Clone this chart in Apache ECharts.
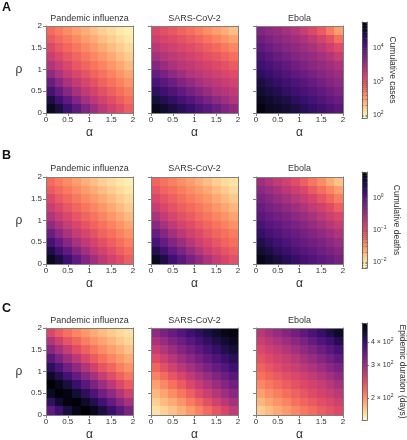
<!DOCTYPE html>
<html><head><meta charset="utf-8">
<script src="https://cdn.jsdelivr.net/npm/echarts@6/dist/echarts.min.js"></script>
<style>html,body{margin:0;padding:0;background:#fff}#c{width:407px;height:440px}</style>
</head><body><div id="c"></div>
<script>
// ---------- data ----------
const alphaCenters = [0.1, 0.3, 0.5, 0.7, 0.9, 1.1, 1.3, 1.5, 1.7, 1.9];
const rhoCenters   = [0.1, 0.3, 0.5, 0.7, 0.9, 1.1, 1.3, 1.5, 1.7, 1.9];
const axisTickValues = [0, 0.5, 1, 1.5, 2];
const diseases = ['Pandemic influenza', 'SARS-CoV-2', 'Ebola'];
const panelLetters = ['A', 'B', 'C'];
const colorbarTitles = ['Cumulative cases', 'Cumulative deaths', 'Epidemic duration (days)'];

// rows: rho = 0.1 (bottom) ... 1.9 (top); columns: alpha = 0.1 ... 1.9
const log10CasesFlu = [
  [4.63,4.45,4.20,3.96,3.73,3.51,3.32,3.17,3.04,2.91],
  [4.43,4.17,3.94,3.70,3.48,3.30,3.16,3.03,2.90,2.79],
  [4.14,3.91,3.68,3.46,3.29,3.14,3.01,2.89,2.78,2.68],
  [3.88,3.65,3.44,3.27,3.13,3.00,2.88,2.77,2.67,2.56],
  [3.62,3.41,3.25,3.11,2.98,2.86,2.76,2.66,2.55,2.45],
  [3.39,3.24,3.10,2.96,2.85,2.75,2.65,2.54,2.44,2.33],
  [3.22,3.08,2.95,2.84,2.74,2.64,2.53,2.43,2.32,2.23],
  [3.07,2.94,2.83,2.73,2.62,2.52,2.42,2.31,2.22,2.14],
  [2.93,2.82,2.72,2.61,2.50,2.41,2.30,2.21,2.13,2.05],
  [2.81,2.71,2.60,2.49,2.40,2.29,2.20,2.12,2.04,2.00]
];
const log10CasesSars = [
  [4.65,4.55,4.44,4.34,4.23,4.11,3.99,3.87,3.73,3.60],
  [4.48,4.37,4.27,4.15,4.03,3.91,3.78,3.64,3.52,3.40],
  [4.30,4.19,4.07,3.95,3.82,3.69,3.56,3.44,3.37,3.28],
  [4.11,3.99,3.87,3.73,3.60,3.48,3.37,3.30,3.23,3.16],
  [3.91,3.78,3.64,3.52,3.40,3.32,3.25,3.18,3.11,3.05],
  [3.69,3.56,3.44,3.35,3.28,3.20,3.14,3.07,3.00,2.92],
  [3.48,3.38,3.30,3.23,3.16,3.09,3.02,2.95,2.87,2.78],
  [3.33,3.25,3.18,3.11,3.05,2.97,2.89,2.81,2.72,2.63],
  [3.20,3.13,3.07,3.00,2.92,2.84,2.75,2.66,2.56,2.46],
  [3.09,3.02,2.95,2.87,2.78,2.69,2.59,2.49,2.39,2.29]
];
const log10CasesEbola = [
  [4.71,4.63,4.57,4.50,4.43,4.35,4.26,4.17,4.09,4.00],
  [4.62,4.55,4.48,4.41,4.31,4.23,4.15,4.06,3.97,3.88],
  [4.52,4.45,4.38,4.29,4.20,4.12,4.03,3.94,3.85,3.75],
  [4.43,4.35,4.26,4.17,4.09,4.00,3.91,3.82,3.72,3.64],
  [4.31,4.23,4.15,4.06,3.97,3.88,3.79,3.69,3.62,3.54],
  [4.20,4.12,4.03,3.94,3.85,3.75,3.66,3.59,3.51,3.42],
  [4.09,4.00,3.91,3.82,3.72,3.64,3.57,3.48,3.37,3.23],
  [3.97,3.88,3.79,3.69,3.62,3.54,3.45,3.32,3.19,3.05],
  [3.85,3.75,3.66,3.59,3.51,3.42,3.28,3.14,3.00,2.79],
  [3.72,3.64,3.57,3.48,3.37,3.23,3.09,2.94,2.71,2.48]
];
const log10DeathsFlu = [
  [0.64,0.45,0.20,-0.06,-0.30,-0.53,-0.72,-0.88,-1.01,-1.15],
  [0.43,0.17,-0.08,-0.33,-0.55,-0.74,-0.89,-1.03,-1.16,-1.27],
  [0.14,-0.11,-0.35,-0.58,-0.76,-0.91,-1.04,-1.17,-1.28,-1.39],
  [-0.14,-0.38,-0.60,-0.78,-0.92,-1.06,-1.19,-1.29,-1.40,-1.51],
  [-0.41,-0.62,-0.80,-0.94,-1.07,-1.20,-1.30,-1.41,-1.52,-1.63],
  [-0.65,-0.81,-0.95,-1.09,-1.21,-1.31,-1.42,-1.53,-1.64,-1.75],
  [-0.83,-0.97,-1.10,-1.22,-1.33,-1.43,-1.54,-1.65,-1.76,-1.86],
  [-0.98,-1.12,-1.23,-1.34,-1.45,-1.55,-1.66,-1.77,-1.87,-1.95],
  [-1.13,-1.24,-1.35,-1.46,-1.57,-1.67,-1.78,-1.88,-1.96,-2.04],
  [-1.25,-1.36,-1.47,-1.58,-1.69,-1.79,-1.89,-1.97,-2.05,-2.10]
];
const log10DeathsSars = [
  [0.62,0.43,0.18,-0.02,-0.23,-0.43,-0.62,-0.80,-0.93,-1.05],
  [0.38,0.14,-0.06,-0.26,-0.47,-0.66,-0.82,-0.95,-1.07,-1.17],
  [0.11,-0.10,-0.30,-0.50,-0.69,-0.85,-0.97,-1.09,-1.19,-1.28],
  [-0.13,-0.34,-0.54,-0.72,-0.87,-0.99,-1.10,-1.21,-1.29,-1.38],
  [-0.37,-0.58,-0.75,-0.90,-1.01,-1.12,-1.22,-1.31,-1.40,-1.50],
  [-0.60,-0.78,-0.92,-1.04,-1.14,-1.24,-1.32,-1.42,-1.51,-1.61],
  [-0.80,-0.94,-1.06,-1.16,-1.25,-1.34,-1.43,-1.53,-1.63,-1.73],
  [-0.96,-1.07,-1.17,-1.27,-1.36,-1.45,-1.54,-1.65,-1.75,-1.85],
  [-1.09,-1.19,-1.28,-1.38,-1.47,-1.56,-1.66,-1.77,-1.86,-1.95],
  [-1.21,-1.30,-1.39,-1.49,-1.58,-1.68,-1.78,-1.88,-1.96,-2.02]
];
const log10DeathsEbola = [
  [0.68,0.57,0.47,0.36,0.25,0.14,0.05,-0.05,-0.13,-0.22],
  [0.54,0.43,0.32,0.22,0.11,0.01,-0.07,-0.16,-0.25,-0.34],
  [0.40,0.29,0.18,0.08,-0.02,-0.10,-0.19,-0.27,-0.38,-0.48],
  [0.25,0.14,0.05,-0.05,-0.13,-0.22,-0.31,-0.41,-0.52,-0.63],
  [0.11,0.01,-0.07,-0.16,-0.25,-0.34,-0.45,-0.56,-0.69,-0.80],
  [-0.02,-0.10,-0.19,-0.27,-0.38,-0.48,-0.59,-0.73,-0.84,-0.96],
  [-0.13,-0.22,-0.31,-0.41,-0.52,-0.63,-0.77,-0.88,-1.01,-1.17],
  [-0.25,-0.34,-0.45,-0.56,-0.69,-0.80,-0.91,-1.07,-1.22,-1.37],
  [-0.38,-0.48,-0.59,-0.73,-0.84,-0.96,-1.12,-1.27,-1.42,-1.59],
  [-0.52,-0.63,-0.77,-0.88,-1.01,-1.17,-1.32,-1.47,-1.65,-1.81]
];
const durationDaysFlu = [
  [357,395,441,483,504,476,439,402,364,328],
  [410,456,494,500,465,426,390,352,318,290],
  [470,502,488,453,414,378,339,309,281,257],
  [504,476,439,402,364,328,300,273,250,232],
  [465,426,390,352,318,290,265,243,228,214],
  [414,378,339,309,281,257,237,224,210,200],
  [364,328,300,273,250,232,218,206,197,188],
  [318,290,265,243,228,214,203,194,186,177],
  [281,257,237,224,210,200,191,183,175,169],
  [250,232,218,206,197,188,180,173,168,164]
];
const durationDaysSars = [
  [164,170,177,186,196,208,222,237,253,270],
  [171,180,188,199,212,225,241,257,275,292],
  [182,191,202,215,229,245,262,279,297,315],
  [193,205,218,232,249,266,283,301,320,340],
  [208,222,237,253,270,288,306,325,344,365],
  [225,241,257,275,292,311,330,350,370,393],
  [245,262,279,297,315,335,355,376,398,421],
  [266,283,301,320,340,360,382,404,426,447],
  [288,306,325,344,365,387,410,431,452,473],
  [311,330,350,370,393,415,436,458,477,491]
];
const durationDaysEbola = [
  [172,180,188,196,205,214,222,231,239,247],
  [183,190,199,207,217,225,233,242,250,260],
  [193,202,210,219,228,236,245,254,263,273],
  [205,214,222,231,239,247,256,265,276,290],
  [217,225,233,242,250,260,269,280,295,310],
  [228,236,245,254,263,273,285,300,315,331],
  [239,247,256,265,276,290,304,320,338,358],
  [250,260,269,280,295,310,325,345,366,387],
  [263,273,285,300,315,331,352,373,394,423],
  [276,290,304,320,338,358,380,403,433,465]
];

// colour-bar ranges and tick labels
const caseRangeLog10 = [1.91, 4.79];
const caseTickExponents = [2, 3, 4];
const deathRangeLog10 = [-2.19, 0.81];
const deathTickExponents = [-2, -1, 0];
const durationRangeDays = [152, 506];
const durationTickDays = [200, 300, 400];

// ---------- styles / layout ----------
const FONT = "'Liberation Sans', Arial, sans-serif";
const axisGray = '#7f7f7f';
const textColor = '#333333';
const magma = ['#000004','#140e36','#3b0f70','#641a80','#8c2981','#b73779','#de4968','#f7705c','#fe9f6d','#fecf92','#fcfdbf'];
const magmaReversed = magma.slice().reverse();
const L = {
  colLeft: [46, 151, 256], rowTop: [26, 177, 328], size: 87,
  cbLeft: 362, cbWidth: 5, cbTop: [22, 172, 323], cbHeight: [96, 96, 97],
  titleY: [18.5, 169, 321], letterY: [8, 156, 309], cbTitleX: [392, 396, 402]
};

const log10 = v => Math.log10(v);
const rowsCfg = [
  { panels: [log10CasesFlu, log10CasesSars, log10CasesEbola], range: caseRangeLog10,
    ticks: caseTickExponents, minorTicks: true,
    fmt: v => '{b|10}{s|' + Math.round(v) + '}' },
  { panels: [log10DeathsFlu, log10DeathsSars, log10DeathsEbola], range: deathRangeLog10,
    ticks: deathTickExponents, minorTicks: true,
    fmt: v => '{b|10}{s|' + (Math.round(v) < 0 ? '\u2212' + Math.abs(Math.round(v)) : Math.round(v)) + '}' },
  { panels: [durationDaysFlu, durationDaysSars, durationDaysEbola].map(m => m.map(r => r.map(log10))),
    range: durationRangeDays.map(log10), ticks: durationTickDays.map(log10), minorTicks: false,
    fmt: v => '{b|' + Math.round(Math.pow(10, v) / 100) + ' \u00d7 10}{s|2}' }
];

const grid = [], xAxis = [], yAxis = [], series = [], visualMap = [], graphic = [];

function txt(x, y, text, size, extra) {
  return Object.assign({
    type: 'text', x: x, y: y, z: 10,
    style: { text: text, fontSize: size, fontFamily: FONT, fill: textColor,
      align: 'center', verticalAlign: 'middle', textAlign: 'center', textVerticalAlign: 'middle' }
  }, extra || {});
}

rowsCfg.forEach((row, r) => {
  const seriesIdx = [];
  row.panels.forEach((vals, c) => {
    const g = grid.length;
    grid.push({ left: L.colLeft[c], top: L.rowTop[r], width: L.size, height: L.size, containLabel: false });
    const xb = xAxis.length;
    xAxis.push({
      gridIndex: g, type: 'value', min: 0, max: 2, interval: 0.5, position: 'bottom', z: 3,
      axisLine: { show: true, onZero: false, lineStyle: { color: axisGray, width: 1 } },
      axisTick: { show: true, length: 3, customValues: axisTickValues, lineStyle: { color: axisGray } },
      axisLabel: { show: true, fontSize: 8, color: textColor, fontFamily: FONT, margin: 3,
        customValues: axisTickValues, formatter: v => String(v) },
      splitLine: { show: false }
    });
    xAxis.push({
      gridIndex: g, type: 'value', min: 0, max: 2, position: 'top', z: 3,
      axisLine: { show: true, onZero: false, lineStyle: { color: axisGray, width: 1 } },
      axisTick: { show: false }, axisLabel: { show: false }, splitLine: { show: false }
    });
    const yl = yAxis.length;
    yAxis.push({
      gridIndex: g, type: 'value', min: 0, max: 2, interval: 0.5, position: 'left', z: 3,
      axisLine: { show: true, onZero: false, lineStyle: { color: axisGray, width: 1 } },
      axisTick: { show: true, length: 3, customValues: axisTickValues, lineStyle: { color: axisGray } },
      axisLabel: { show: c === 0, fontSize: 8, color: textColor, fontFamily: FONT, margin: 4,
        customValues: axisTickValues, formatter: v => String(v) },
      splitLine: { show: false }
    });
    yAxis.push({
      gridIndex: g, type: 'value', min: 0, max: 2, position: 'right', z: 3,
      axisLine: { show: true, onZero: false, lineStyle: { color: axisGray, width: 1 } },
      axisTick: { show: false }, axisLabel: { show: false }, splitLine: { show: false }
    });
    const data = [];
    vals.forEach((rowVals, i) => rowVals.forEach((v, j) => data.push([alphaCenters[j], rhoCenters[i], v])));
    const half = (alphaCenters[1] - alphaCenters[0]) / 2;
    seriesIdx.push(series.length);
    series.push({
      type: 'custom', xAxisIndex: xb, yAxisIndex: yl, z: 2, silent: true,
      encode: { x: 0, y: 1 },
      data: data,
      renderItem: (params, api) => {
        const a = api.value(0), rr = api.value(1);
        const p0 = api.coord([a - half, rr + half]);
        const p1 = api.coord([a + half, rr - half]);
        const x0 = Math.round(p0[0]), y0 = Math.round(p0[1]);
        const x1 = Math.round(p1[0]), y1 = Math.round(p1[1]);
        return { type: 'rect', shape: { x: x0, y: y0, width: x1 - x0, height: y1 - y0 },
          style: { fill: api.visual('color') } };
      }
    });
    graphic.push(txt(L.colLeft[c] + L.size / 2, L.titleY[r], diseases[c], 9));
    graphic.push(txt(L.colLeft[c] + L.size / 2, L.rowTop[r] + L.size + 19.5, '\u03b1', 12));
  });
  graphic.push(txt(19, L.rowTop[r] + L.size / 2, '\u03c1', 12));
  graphic.push(txt(6.5, L.letterY[r], panelLetters[r], 12.5,
    { style: { text: panelLetters[r], fontSize: 12.5, fontWeight: 'bold', fontFamily: FONT, fill: '#111',
      align: 'center', verticalAlign: 'middle', textAlign: 'center', textVerticalAlign: 'middle' } }));

  // colour bar
  visualMap.push({
    type: 'continuous', seriesIndex: seriesIdx, dimension: 2,
    min: row.range[0], max: row.range[1], inRange: { color: magmaReversed },
    show: true, calculable: false, hoverLink: false, orient: 'vertical',
    left: L.cbLeft, top: L.cbTop[r], itemWidth: L.cbWidth, itemHeight: L.cbHeight[r],
    padding: 0, text: null, z: 4
  });
  const cg = grid.length;
  grid.push({ left: L.cbLeft, top: L.cbTop[r], width: L.cbWidth, height: L.cbHeight[r] });
  xAxis.push({ gridIndex: cg, type: 'value', min: 0, max: 1, position: 'bottom', z: 6,
    axisLine: { show: true, onZero: false, lineStyle: { color: '#555', width: 0.8 } },
    axisTick: { show: false }, axisLabel: { show: false }, splitLine: { show: false } });
  xAxis.push({ gridIndex: cg, type: 'value', min: 0, max: 1, position: 'top', z: 6,
    axisLine: { show: true, onZero: false, lineStyle: { color: '#555', width: 0.8 } },
    axisTick: { show: false }, axisLabel: { show: false }, splitLine: { show: false } });
  let minor = [];
  if (row.minorTicks) {
    for (let k = Math.floor(row.range[0]); k <= Math.ceil(row.range[1]); k++) {
      for (let m = 2; m <= 9; m++) {
        const lv = k + Math.log10(m);
        if (lv > row.range[0] && lv < row.range[1]) minor.push(lv);
      }
    }
  }
  yAxis.push({ gridIndex: cg, type: 'value', min: row.range[0], max: row.range[1], position: 'left', z: 6,
    axisLine: { show: true, onZero: false, lineStyle: { color: '#555', width: 0.8 } },
    axisTick: { show: row.minorTicks, inside: true, length: 1.5, customValues: minor.concat(row.ticks),
      lineStyle: { color: '#555', width: 0.6 } },
    axisLabel: { show: false }, splitLine: { show: false } });
  yAxis.push({ gridIndex: cg, type: 'value', min: row.range[0], max: row.range[1], position: 'right', z: 6,
    axisLine: { show: true, onZero: false, lineStyle: { color: '#555', width: 0.8 } },
    axisTick: row.minorTicks
      ? { show: true, inside: true, length: 1.5, customValues: minor.concat(row.ticks), lineStyle: { color: '#555', width: 0.6 } }
      : { show: true, inside: false, length: 2, customValues: row.ticks, lineStyle: { color: '#555', width: 0.8 } },
    axisLabel: { show: true, customValues: row.ticks, margin: row.minorTicks ? 6 : 4,
      formatter: row.fmt, color: textColor, fontFamily: FONT,
      rich: { b: { fontSize: 7, lineHeight: 10, fontFamily: FONT, color: textColor },
              s: { fontSize: 5, lineHeight: 5, verticalAlign: 'top', fontFamily: FONT, color: textColor } } },
    splitLine: { show: false } });
  graphic.push(txt(L.cbTitleX[r], L.cbTop[r] + L.cbHeight[r] / 2, colorbarTitles[r], 8.5, { rotation: -Math.PI / 2 }));
});

const chart = echarts.init(document.getElementById('c'), null, { renderer: 'canvas' });
chart.setOption({
  animation: false,
  backgroundColor: '#ffffff',
  grid: grid, xAxis: xAxis, yAxis: yAxis, series: series, visualMap: visualMap,
  graphic: { elements: graphic }
});
</script>
</body></html>
